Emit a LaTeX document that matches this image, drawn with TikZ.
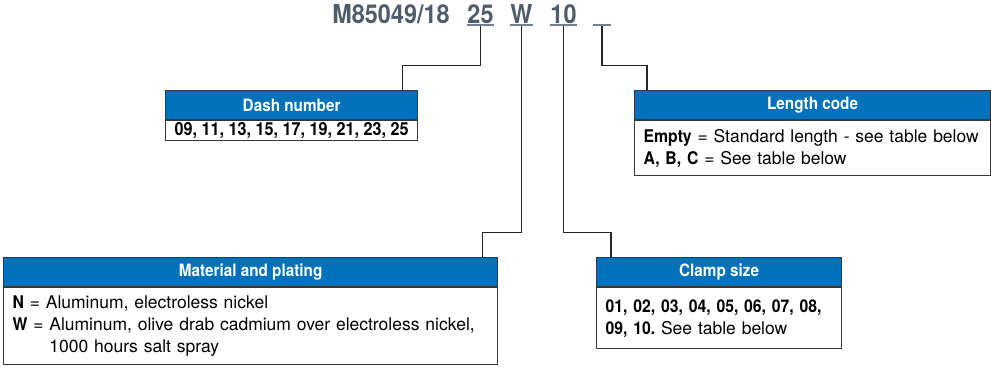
\documentclass[tikz,border=0pt]{standalone}
\usepackage{fontspec}
\setmainfont{TeX Gyre Heros}[BoldFeatures={FakeStretch=0.9}]
\usetikzlibrary{positioning}
\frenchspacing

\definecolor{hdrblue}{RGB}{0,114,187}
\definecolor{codegray}{RGB}{78,92,108}
\definecolor{linegray}{RGB}{112,128,144}
\definecolor{framegray}{RGB}{55,55,55}

\tikzset{
  code/.style={font=\fontsize{26}{26}\selectfont\bfseries, text=codegray, inner sep=0pt, text height=19pt, text depth=2pt, anchor=base},
  uline/.style={draw=linegray, line width=1.6pt},
  wire/.style={draw=black!85, line width=1.1pt},
  head/.style={draw=framegray, line width=1.2pt, fill=hdrblue, text=white, font=\fontsize{17}{17}\selectfont\bfseries, minimum height=29pt, inner sep=0pt, anchor=north west},
  body/.style={draw=framegray, line width=1.2pt, fill=white, font=\fontsize{17.5}{22}\selectfont, align=left, inner xsep=9pt, inner ysep=0pt, anchor=north west},
}

\begin{document}
\begin{tikzpicture}[x=1pt,y=-1pt]
  \useasboundingbox (0,0) rectangle (991,367);

  % part number
  \node[code] (cbase) at (391,23) {M85049/18};
  \node[code] (c25) at (480.5,23) {25};
  \node[code] (cW) at (521.5,23) {W};
  \node[code] (c10) at (563.5,23) {10};
  \node[code, minimum width=18pt] (cblank) at (602,23) {};

  % boxes, upper row
  \node[head, minimum width=252pt] (dashhead) at (165,90) {Dash number};
  \node[body, minimum height=20pt, minimum width=252pt, inner xsep=3pt, align=center,
        font=\fontsize{18}{22}\selectfont\bfseries] (dashbody) at (dashhead.south west)
        {09, 11, 13, 15, 17, 19, 21, 23, 25};

  \node[head, minimum width=356pt] (lenhead) at (634,90) {Length code};
  \node[body, minimum height=55pt, text width=338pt] (lenbody) at (lenhead.south west)
        {\textbf{Empty} = Standard length - see table below\\
         \textbf{A, B, C} = See table below};

  % boxes, lower row
  \node[head, minimum width=494pt] (mathead) at (3,257) {Material and plating};
  \node[body, minimum height=77pt, text width=476pt] (matbody) at (mathead.south west)
        {\textbf{N} = Aluminum, electroless nickel\\
         \textbf{W} = Aluminum, olive drab cadmium over electroless nickel,\\
         \phantom{\textbf{W} = }1000 hours salt spray};

  \node[head, minimum width=245pt] (clamphead) at (596,257) {Clamp size};
  \node[body, minimum height=61pt, text width=227pt] (clampbody) at (clamphead.south west)
        {\textbf{01, 02, 03, 04, 05, 06, 07, 08,}\\
         \textbf{09, 10.} See table below};

  % connectors
  \draw[wire] (c25.south) -- ++(0,40) -| ([xshift=-16pt]dashhead.north east);
  \draw[wire] (cW.south) -- ++(0,207) -| ([xshift=-16pt]mathead.north east);
  \draw[wire] (c10.south) -- ++(0,207) -| ([xshift=15pt]clamphead.north west);
  \draw[wire] (cblank.south) -- ++(0,40) -| ([xshift=13pt]lenhead.north west);

  % underlines
  \foreach \c in {c25,cW,c10,cblank}
    \draw[uline] (\c.south west) -- (\c.south east);
\end{tikzpicture}
\end{document}
